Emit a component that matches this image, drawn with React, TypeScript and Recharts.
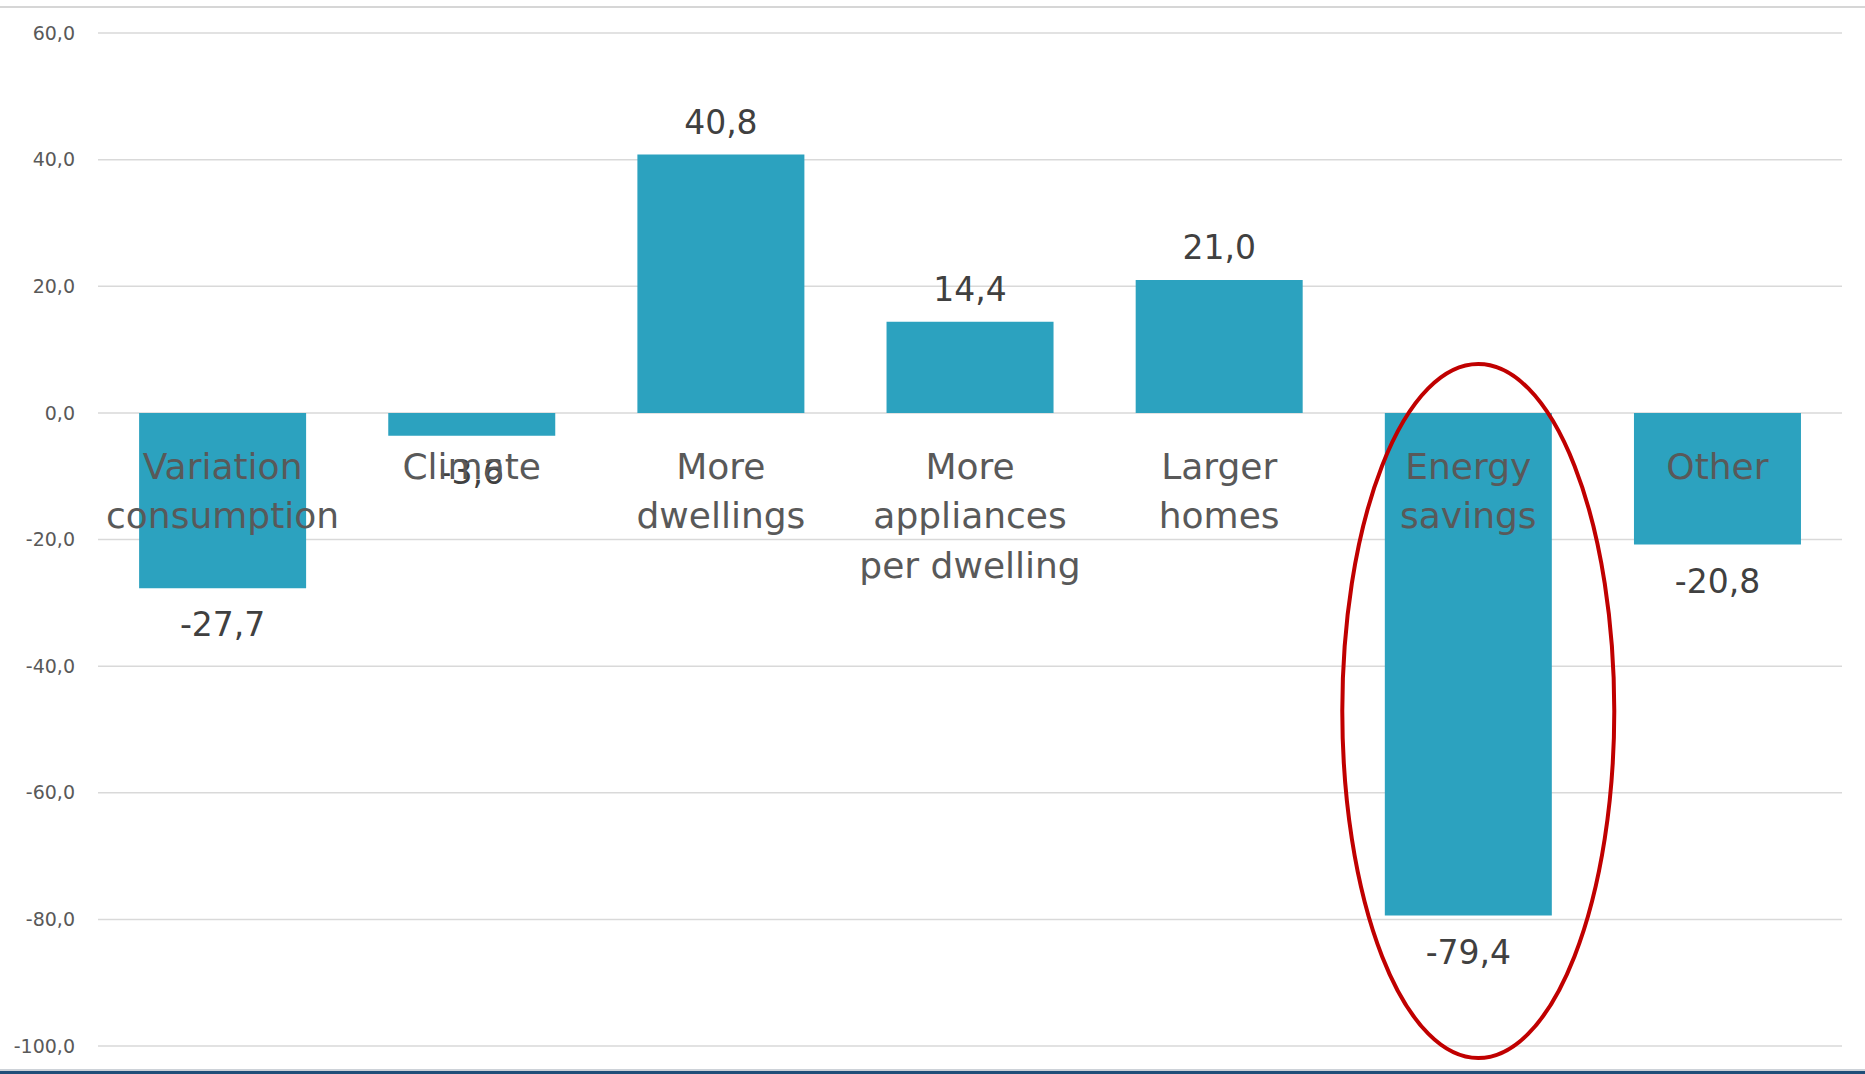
import React from "react";
import {
  BarChart,
  Bar,
  XAxis,
  YAxis,
  CartesianGrid,
  LabelList,
  ReferenceDot,
} from "recharts";

const categories = [
  "Variation consumption",
  "Climate",
  "More dwellings",
  "More appliances per dwelling",
  "Larger homes",
  "Energy savings",
  "Other",
];
const categoryLines = [
  ["Variation", "consumption"],
  ["Climate"],
  ["More", "dwellings"],
  ["More", "appliances", "per dwelling"],
  ["Larger", "homes"],
  ["Energy", "savings"],
  ["Other"],
];
const values = [-27.7, -3.6, 40.8, 14.4, 21.0, -79.4, -20.8];
const yTicks = [60, 40, 20, 0, -20, -40, -60, -80, -100];
const highlightCategory = "Energy savings";
const highlightTop = 7.7;
const highlightBottom = -101.9;

const data = categories.map((c, i) => ({ name: c, value: values[i] }));

const fmt = (v: number) => v.toFixed(1).replace(".", ",");

const BAR = "#2CA2BF";
const FONT = "'DejaVu Sans', sans-serif";

const getBox = (props: any) => {
  const vb = props.viewBox || props;
  const y = Number(vb.y);
  const h = Number(vb.height);
  return {
    x: Number(vb.x),
    width: Number(vb.width),
    top: Math.min(y, y + h),
    bottom: Math.max(y, y + h),
  };
};

const ValueLabel = (props: any) => {
  const { value } = props;
  const b = getBox(props);
  const cx = b.x + b.width / 2;
  const y = value >= 0 ? b.top - 21 : b.bottom + 48;
  return (
    <text
      x={cx}
      y={y}
      textAnchor="middle"
      fill="#404040"
      fontSize={33}
      fontFamily={FONT}
    >
      {fmt(Number(value))}
    </text>
  );
};

const CategoryLabel = (props: any) => {
  const { value, index } = props;
  const b = getBox(props);
  const cx = b.x + b.width / 2;
  const zero = value >= 0 ? b.bottom : b.top;
  const lines = categoryLines[index] || [];
  return (
    <text
      textAnchor="middle"
      fill="#595959"
      fontSize={36}
      fontFamily={FONT}
    >
      {lines.map((l, i) => (
        <tspan key={i} x={cx} y={zero + 66 + i * 49.5}>
          {l}
        </tspan>
      ))}
    </text>
  );
};

const EllipseShape = (props: any) => {
  const { cx, cy } = props;
  return (
    <ellipse
      cx={cx + 10}
      cy={cy}
      rx={136}
      ry={347}
      fill="none"
      stroke="#C00000"
      strokeWidth={4}
    />
  );
};

export default function App() {
  return (
    <div
      style={{
        position: "absolute",
        left: 0,
        top: 0,
        width: 1865,
        height: 1074,
        background: "#fff",
        overflow: "hidden",
      }}
    >
      <BarChart
        width={1865}
        height={1074}
        data={data}
        margin={{ top: 33, right: 23, bottom: 28, left: 0 }}
        barCategoryGap="16.5%"
      >
        <CartesianGrid vertical={false} stroke="#D9D9D9" strokeWidth={1.5} />
        <XAxis dataKey="name" hide />
        <YAxis
          width={98}
          domain={[-100, 60]}
          ticks={yTicks}
          interval={0}
          tickFormatter={fmt}
          axisLine={false}
          tickLine={false}
          tickSize={0}
          tickMargin={23}
          tick={{ fill: "#595959", fontSize: 19, fontFamily: FONT }}
        />
        <Bar dataKey="value" fill={BAR} isAnimationActive={false}>
          <LabelList dataKey="value" content={ValueLabel} />
          <LabelList dataKey="value" content={CategoryLabel} />
        </Bar>
        <ReferenceDot
          x={highlightCategory}
          y={(highlightTop + highlightBottom) / 2}
          ifOverflow="visible"
          shape={EllipseShape}
        />
      </BarChart>
      <div
        style={{
          position: "absolute",
          left: 0,
          top: 6,
          width: 1865,
          height: 2,
          background: "#D6D6D6",
          zIndex: 5,
        }}
      />
      <div
        style={{
          position: "absolute",
          left: 0,
          top: 1069,
          width: 1865,
          height: 2,
          background: "#CDD2D8",
          zIndex: 5,
        }}
      />
      <div
        style={{
          position: "absolute",
          left: 0,
          top: 1071,
          width: 1865,
          height: 3,
          background: "#1F4E79",
          zIndex: 5,
        }}
      />
    </div>
  );
}
